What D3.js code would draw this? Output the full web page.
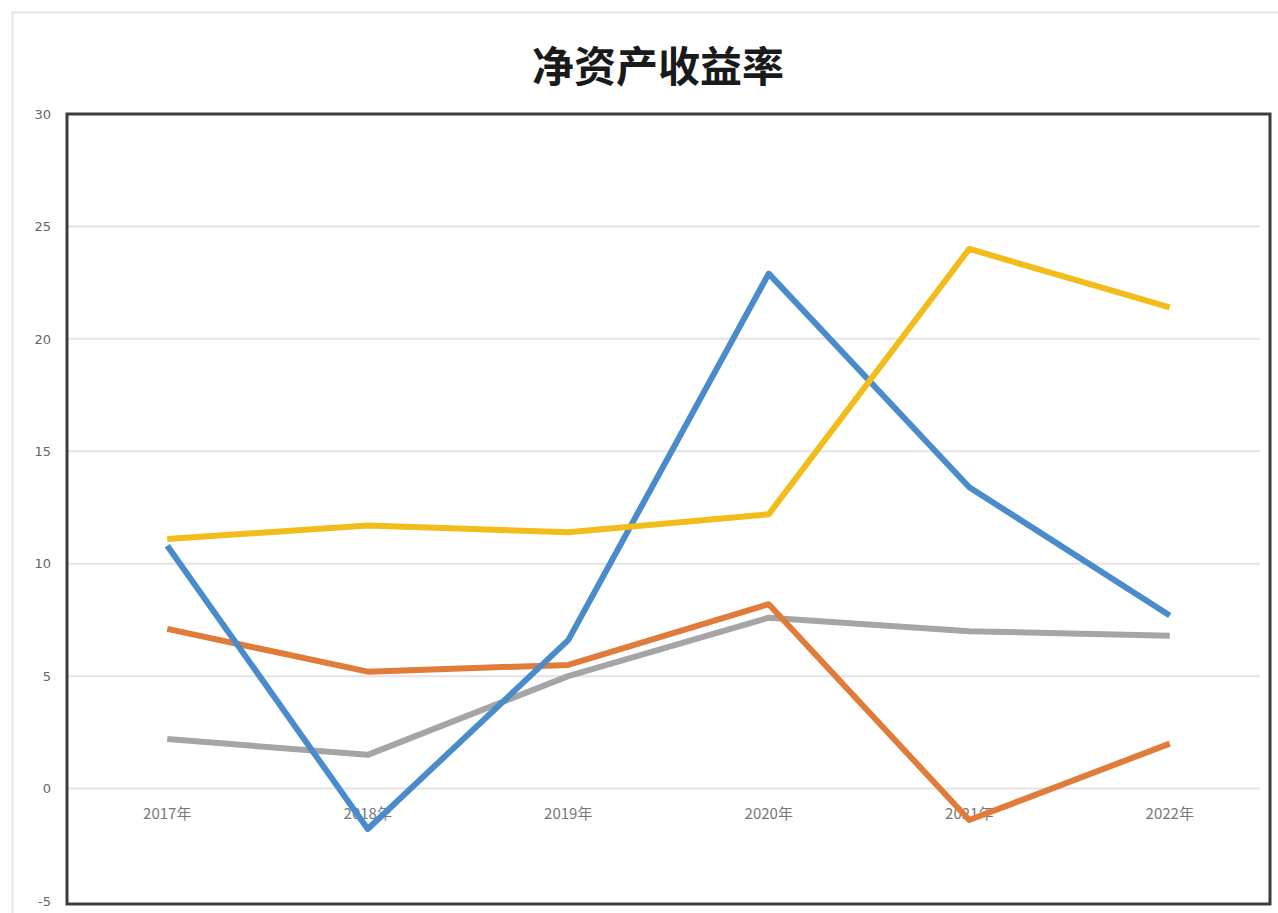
<!DOCTYPE html>
<html>
<head>
<meta charset="utf-8">
<script src="https://cdn.jsdelivr.net/npm/d3@7"></script>
<style>
  body { margin: 0; background: #fff; }
  svg { display: block; }
</style>
</head>
<body>
<div id="chart"></div>
<script>
// data
var years = ['2017年', '2018年', '2019年', '2020年', '2021年', '2022年'];
var blueVals = [10.8, -1.8, 6.6, 22.9, 13.4, 7.7];
var orangeVals = [7.1, 5.2, 5.5, 8.2, -1.4, 2.0];
var grayVals = [2.2, 1.5, 5.0, 7.6, 7.0, 6.8];
var yellowVals = [11.1, 11.7, 11.4, 12.2, 24.0, 21.4];
var yTicks = [-5, 0, 5, 10, 15, 20, 25, 30];

var width = 1278, height = 913;
var margin = {top: 114, right: 8, bottom: 10, left: 67};
var plotW = width - margin.left - margin.right;
var plotH = 790;

var svg = d3.select('#chart').append('svg')
    .attr('width', width)
    .attr('height', height);

// faint outer chart border
svg.append('rect')
    .attr('x', 12.5).attr('y', 12.5)
    .attr('width', width).attr('height', height)
    .attr('fill', 'none')
    .attr('stroke', '#e6e6e6')
    .attr('stroke-width', 2);

// title
svg.append('text')
    .attr('x', 658)
    .attr('y', 82)
    .attr('text-anchor', 'middle')
    .attr('font-family', '"Noto Sans CJK SC", sans-serif')
    .attr('font-weight', 700)
    .attr('font-size', 42)
    .attr('fill', '#1a1a1a')
    .text('净资产收益率');

var g = svg.append('g')
    .attr('transform', 'translate(' + margin.left + ',' + margin.top + ')');

var x = d3.scaleBand().domain(years).range([0, plotW]);
var y = d3.scaleLinear().domain([-5, 30]).range([plotH - 3, 0]);

// gridlines
g.selectAll('.grid')
    .data(yTicks.filter(function(d) { return d > -5 && d < 30; }))
    .enter().append('line')
    .attr('x1', 0).attr('x2', plotW - 10)
    .attr('y1', function(d) { return y(d); })
    .attr('y2', function(d) { return y(d); })
    .attr('stroke', '#e3e3e3')
    .attr('stroke-width', 2);

// y axis labels
var yAxis = g.append('g')
    .call(d3.axisLeft(y).tickValues(yTicks).tickSize(0).tickPadding(16)
      .tickFormat(function(d) { return String(d); }));
yAxis.select('.domain').remove();
yAxis.selectAll('text')
    .attr('font-family', '"DejaVu Sans", sans-serif')
    .attr('font-size', 13)
    .attr('fill', '#666');

// x axis labels, sitting under the zero line
var xAxis = g.append('g')
    .attr('transform', 'translate(0,' + y(0) + ')')
    .call(d3.axisBottom(x).tickSize(0).tickPadding(20));
xAxis.select('.domain').remove();
xAxis.selectAll('text')
    .attr('font-family', '"Noto Sans CJK SC", sans-serif')
    .attr('font-size', 15)
    .attr('fill', '#777');

var line = d3.line()
    .x(function(d, i) { return x(years[i]) + x.bandwidth() / 2; })
    .y(function(d) { return y(d); });

var series = [
  {vals: grayVals, color: '#A5A5A5'},
  {vals: orangeVals, color: '#E07B39'},
  {vals: blueVals, color: '#4A8CCB'},
  {vals: yellowVals, color: '#F2BC1B'}
];

series.forEach(function(s) {
  g.append('path')
      .datum(s.vals)
      .attr('fill', 'none')
      .attr('stroke', s.color)
      .attr('stroke-width', 6)
      .attr('stroke-linejoin', 'round')
      .attr('d', line);
});

// dark frame around the plot area
g.append('rect')
    .attr('x', 0).attr('y', 0)
    .attr('width', plotW).attr('height', plotH)
    .attr('fill', 'none')
    .attr('stroke', '#3c3c3c')
    .attr('stroke-width', 3);
</script>
</body>
</html>
